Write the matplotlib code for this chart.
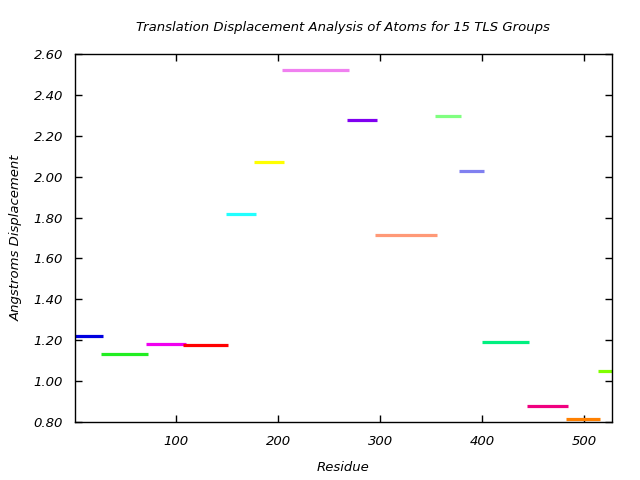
import matplotlib.pyplot as plt
import numpy as np

# TLS groups: residue ranges and mean translation displacement
starts = [1, 27, 71, 107, 149, 176, 204, 268, 295, 354, 377, 400, 444, 482, 513]
ends = [29, 73, 110, 151, 178, 206, 270, 297, 356, 379, 402, 446, 484, 515, 527]
values = [1.22, 1.13, 1.18, 1.175, 1.816, 2.07, 2.52, 2.276, 1.713, 2.296, 2.03, 1.19, 0.877, 0.815, 1.048]
colors = ['#0000e0', '#22ee22', '#f000f0', '#ff0000', '#22ffff', '#ffff00', '#f080f0',
          '#8000f0', '#ff9977', '#80ff80', '#8080f0', '#00f080', '#f00080', '#ff8000', '#80ff00']

fs = 9.5

fig = plt.figure(figsize=(6.4, 4.8), dpi=100)
ax = fig.add_axes([0.117, 0.121, 0.839, 0.7665])

for s, e, v, c in zip(starts, ends, values, colors):
    ax.plot([s, e], [v, v], color=c, lw=2.3, solid_capstyle='butt')

ax.set_xlim(1, 527)
ax.set_ylim(0.80, 2.60)
ax.set_xticks([100, 200, 300, 400, 500])
ax.set_yticks(np.arange(0.8, 2.61, 0.2))
ax.set_yticklabels([f'{t:.2f}' for t in np.arange(0.8, 2.61, 0.2)])
ax.tick_params(direction='in', length=5, width=1, top=True, right=True, labelsize=fs)
ax.tick_params(axis='x', pad=9.5)
ax.tick_params(axis='y', pad=8.5)
for lab in ax.get_xticklabels() + ax.get_yticklabels():
    lab.set_fontstyle('italic')
for sp in ax.spines.values():
    sp.set_linewidth(1)

ax.set_xlabel('Residue', fontstyle='italic', fontsize=fs, labelpad=9)
ax.set_ylabel('Angstroms Displacement', fontstyle='italic', fontsize=fs, labelpad=8)
ax.set_title('Translation Displacement Analysis of Atoms for 15 TLS Groups',
             fontstyle='italic', fontsize=fs, pad=16.5)

plt.savefig('out.png', dpi=100)
